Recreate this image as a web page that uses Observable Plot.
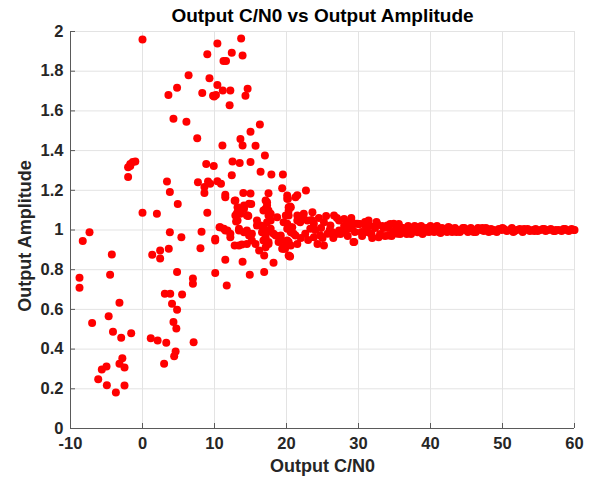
<!DOCTYPE html>
<html>
<head>
<meta charset="utf-8">
<script src="https://cdn.jsdelivr.net/npm/d3@7"></script>
<script src="https://cdn.jsdelivr.net/npm/@observablehq/plot@0.6"></script>
<style>
  html, body { margin: 0; padding: 0; background: #fff; }
  svg { display: block; }
</style>
</head>
<body>
<div id="chart"></div>
<script>
const titleText = "Output C/N0 vs Output Amplitude";
const xLabel = "Output C/N0";
const yLabel = "Output Amplitude";
const xTicks = [-10, 0, 10, 20, 30, 40, 50, 60];
const xTickLabels = ["-10", "0", "10", "20", "30", "40", "50", "60"];
const yTicks = [0, 0.2, 0.4, 0.6, 0.8, 1, 1.2, 1.4, 1.6, 1.8, 2];
const yTickLabels = ["0", "0.2", "0.4", "0.6", "0.8", "1", "1.2", "1.4", "1.6", "1.8", "2"];

// Low C/N0 region (sparse, < 10)
const cn0Low = [-8.75,-8.75,-8.3,-7.36,-7.0,-6.15,-5.65,-5.0,-4.95,-4.7,-4.5,-4.26,-4.1,-3.7,-3.2,-3.2,-2.96,-2.8,-2.5,-2.5,-1.57,-2.0,-1.7,-1.35,-1.0,-1.7,-2.0,
  0,0,1.15,1.35,2.0,2.1,2.45,2.45,3.0,3.1,3.3,3.4,3.6,3.65,3.8,3.8,3.85,4.1,4.3,4.3,4.4,4.6,4.7,4.8,4.8,4.8,4.9,5.4,5.5,6.1,6.4,7.0,7.0,7.1,7.6,7.7,8.05,8.2,8.3,8.6,8.6,8.85,9.0,9.0,9.1,9.3,9.4,9.8,9.9,9.95];
const ampLow = [0.759,0.709,0.944,0.989,0.531,0.248,0.297,0.312,0.218,0.566,0.774,0.877,0.487,0.181,0.633,0.326,0.457,0.354,0.307,0.217,0.48,1.316,1.333,1.342,1.345,1.323,1.267,
  1.96,1.087,0.455,0.875,1.082,0.443,0.897,0.856,0.326,0.679,0.432,1.244,1.68,0.905,0.989,1.192,0.679,0.628,1.56,0.536,0.364,0.388,0.504,1.716,0.789,0.598,1.131,0.964,0.675,1.545,1.78,0.756,0.729,0.435,1.462,1.241,0.908,0.991,1.69,1.216,1.187,1.332,1.886,1.087,1.244,1.765,1.233,1.676,1.323,1.672];

// Mid C/N0 region (10 - 30)
const cn0Mid = [10.1,10.1,10.2,10.4,10.4,10.4,10.7,10.9,11.1,11.15,11.25,11.3,11.5,11.5,11.6,11.7,11.8,12.1,12.2,12.2,12.4,12.4,12.5,12.8,12.8,12.9,13.0,13.1,13.2,13.2,13.4,13.5,13.6,13.6,13.7,13.8,13.9,13.9,13.9,14.0,14.1,14.3,14.5,14.6,14.6,14.7,14.9,15.0,15.0,15.0,15.1,15.2,15.7,15.7,15.9,16.3,16.4,16.4,16.8,16.8,16.9,16.9,17.0,17.1,17.3,17.3,17.5,17.5,17.5,17.8,17.8,17.9,18.2,18.2,18.7,18.9,19.2,19.4,19.4,19.5,19.8,20.1,20.2,20.3,20.4,20.5,20.5,20.6,21.0,21.5,21.5,21.5,22.7,
  11.5,12.9,14.8,14.1,13.6,13.2,14.5,17.3,17.1,17.5,17.3,17.8,20.1,20.6,20.3,20.1,20.6,10.8,11.5,12.2,13.4,14.1,14.8,15.2,14.5,13.4,15.9,16.8,16.6,17.1,17.5,17.1,16.2,18.5,19.2,19.9,20.6,19.6,10.1,
  20.1,21.25,20.3,19.9,19.6,20.1,20.8,21.5,22.4,23.6,21.9,22.9,23.8,23.3,21.25,20.3,19.6,22.6,23.8,24.7,24.3,25.2,25.2,26.1,26.6,27.3,28.0,28.4,29.1,29.8,29.1,28.2,27.3,26.4,25.7,29.3,20.3,
  22.0,22.3,23.0,23.5,24.0,24.5,25.0,25.5,26.0,26.5,27.0,27.5,28.0,28.5,29.0,29.5,30.0,24.8,26.9,28.8];
const ampMid = [0.947,0.784,1.68,1.94,1.73,1.246,1.014,1.233,1.426,1.703,1.852,1.006,1.177,0.85,1.852,0.72,0.997,1.629,1.703,0.964,1.893,1.276,1.345,1.147,0.922,1.073,1.043,1.082,1.09,1.115,0.997,1.337,1.459,1.107,1.965,0.927,1.879,1.426,0.84,1.187,1.123,1.676,0.997,1.711,1.073,1.07,0.774,1.495,1.342,1.184,1.131,0.981,1.424,0.93,1.048,1.532,1.293,1.023,1.098,0.947,0.872,0.789,1.375,1.149,1.123,0.989,1.185,1.098,0.93,1.082,1.048,1.28,0.835,0.981,1.064,0.939,0.972,1.21,0.905,1.28,0.905,0.947,1.157,1.098,0.868,1.118,0.866,1.014,0.981,1.175,1.048,0.93,1.199,
  1.165,1.149,1.132,1.107,1.082,1.048,1.073,1.14,1.107,1.073,1.039,1.006,1.157,1.115,1.073,1.031,0.989,1.014,0.997,0.981,1.006,0.989,0.972,0.947,0.93,0.922,1.023,1.014,0.989,0.964,0.939,0.913,0.897,0.972,0.956,0.939,0.922,0.905,0.956,
  1.174,1.165,1.115,1.073,1.039,1.006,1.014,1.073,1.082,1.09,1.039,1.048,1.031,1.006,0.972,0.939,0.913,0.981,0.964,0.972,0.93,0.922,1.039,1.023,1.073,1.048,1.056,1.031,1.039,1.031,1.006,0.989,0.997,0.989,0.981,0.939,0.872,
  0.96,1.06,0.95,1.05,1.0,1.06,0.96,1.07,1.0,0.96,1.06,0.98,1.02,0.97,1.06,0.99,1.03,1.01,0.98,1.01];

// High C/N0 region (30 - 60), converging to 1
const cn0High = [30.2,30.5,30.9,31.2,31.6,31.9,32.3,32.6,33.0,33.3,33.7,34.1,34.4,34.8,35.1,35.5,35.8,36.2,36.6,36.9,37.3,37.6,38.0,38.4,38.7,39.1,39.4,39.8,
  40.2,40.5,40.9,41.2,41.6,42.0,42.3,42.7,43.0,43.4,43.8,44.1,44.5,44.8,45.2,45.6,45.9,46.3,46.6,47.0,47.4,47.7,48.1,48.4,48.8,49.2,49.5,49.9,
  50.2,50.6,51.0,51.3,51.7,52.0,52.4,52.8,53.1,53.5,53.8,54.2,54.6,54.9,55.3,55.6,56.0,56.4,56.7,57.1,57.4,57.8,58.2,58.5,58.9,59.2,59.6,59.9,
  30.4,31.0,31.8,32.5,33.5,34.6,35.6,36.7,37.8,38.9,40.0,41.4,42.5,43.6,44.7,46.0,47.2,48.6,50.0,51.5,53.0,54.4,55.8,57.3,58.7,60.0,
  30.7,31.4,31.7,32.8,34.0,34.2,34.9,35.4,35.8,36.8,37.0,38.2,38.2,39.5,39.5,40.9,29.4];
const ampHigh = [1.03,0.97,1.04,0.99,1.02,0.96,1.01,1.03,0.98,1.02,0.97,1.01,1.03,0.99,1.00,1.02,0.98,1.01,0.99,1.02,0.98,1.01,1.00,0.99,1.02,0.99,1.01,0.99,
  1.01,0.99,1.02,0.99,1.01,1.00,0.99,1.01,0.99,1.01,1.00,0.99,1.01,1.00,0.99,1.01,1.00,0.99,1.01,1.00,0.995,1.01,0.99,1.005,1.00,0.99,1.005,1.00,
  1.005,0.995,1.00,1.01,0.995,1.00,1.005,0.99,1.00,1.005,0.995,1.00,1.005,0.995,1.00,1.005,0.995,1.00,1.005,0.995,1.00,1.00,0.995,1.005,1.00,0.995,1.005,1.00,
  0.99,1.02,0.98,1.04,1.01,0.97,1.03,0.98,1.02,0.98,1.02,0.985,1.015,0.99,1.01,0.99,1.01,0.995,1.01,0.99,1.005,0.995,1.005,0.995,1.005,1.0,
  0.989,1.048,0.981,0.964,1.023,0.972,1.031,0.981,1.014,0.986,1.006,1.014,0.989,1.006,0.992,1.014,0.939];

const points = [];
[[cn0Low, ampLow], [cn0Mid, ampMid], [cn0High, ampHigh]].forEach(([xs, ys]) => {
  xs.forEach((x, i) => points.push({cn0: x, amp: ys[i]}));
});

const font = "'Liberation Sans', Arial, Helvetica, sans-serif";

const chart = Plot.plot({
  width: 594,
  height: 481,
  marginLeft: 70,
  marginRight: 20,
  marginTop: 31,
  marginBottom: 53,
  style: {fontFamily: font, background: "#ffffff", color: "#262626"},
  x: {domain: [-10, 60], label: null},
  y: {domain: [0, 2], label: null},
  marks: [
    Plot.gridX(xTicks, {stroke: "#e3e3e3", strokeOpacity: 1, strokeWidth: 1}),
    Plot.gridY(yTicks, {stroke: "#e3e3e3", strokeOpacity: 1, strokeWidth: 1}),
    Plot.ruleY([yTicks[0]], {stroke: "#5a5a5a", strokeWidth: 1}),
    Plot.ruleX([xTicks[0]], {stroke: "#5a5a5a", strokeWidth: 1}),
    Plot.axisX(xTicks, {tickSize: -5, tickPadding: 14, stroke: "#5a5a5a", fontSize: 16.5, fontWeight: "bold", fill: "#262626", label: null,
      tickFormat: (d) => xTickLabels[xTicks.indexOf(d)]}),
    Plot.axisY(yTicks, {tickSize: -5, tickPadding: 12, stroke: "#5a5a5a", fontSize: 16.5, fontWeight: "bold", fill: "#262626", label: null,
      tickFormat: (d) => yTickLabels[yTicks.indexOf(d)]}),
    Plot.dot(points, {x: "cn0", y: "amp", r: 4, fill: "#ff0000", stroke: "none"}),
    Plot.text([titleText], {frameAnchor: "top", lineAnchor: "middle", dy: -16, fontSize: 19, fontWeight: "bold", fill: "#000"}),
    Plot.text([xLabel], {frameAnchor: "bottom", lineAnchor: "middle", dy: 38, fontSize: 18, fontWeight: "bold", fill: "#262626"}),
    Plot.text([yLabel], {frameAnchor: "left", dx: -45, dy: 6, rotate: -90, textAnchor: "middle", fontSize: 18, fontWeight: "bold", fill: "#262626"})
  ]
});
document.getElementById("chart").appendChild(chart);
</script>
</body>
</html>
